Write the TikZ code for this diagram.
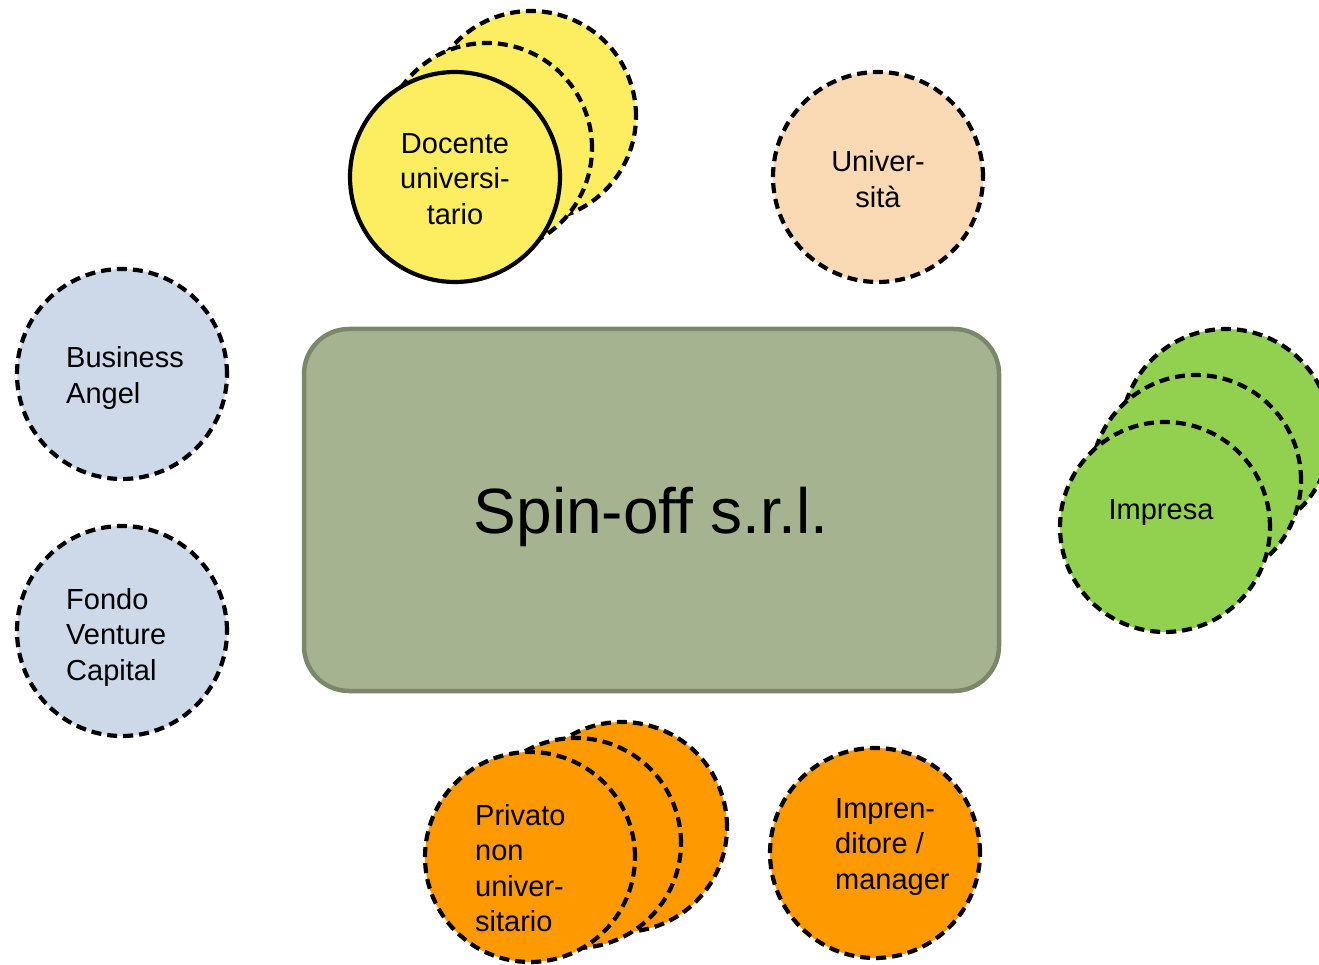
\documentclass[tikz,border=0pt]{standalone}
\usepackage{fontspec}
\setmainfont{Liberation Sans}
\definecolor{cyellow}{RGB}{252,238,96}
\definecolor{cpeach}{RGB}{250,217,181}
\definecolor{cblue}{RGB}{205,216,232}
\definecolor{cgreen}{RGB}{146,208,80}
\definecolor{corange}{RGB}{255,153,0}
\definecolor{crect}{RGB}{165,179,145}
\definecolor{crectb}{RGB}{122,135,107}
\begin{document}
\begin{tikzpicture}[x=1pt,y=-1pt,
  ent/.style={circle, minimum size=210pt, inner sep=0pt, line width=4.2pt, draw=black, dash pattern=on 10pt off 6pt},
  lbl/.style={inner sep=0pt, font=\fontsize{29}{35.5}\selectfont},
  lbll/.style={lbl, anchor=west, align=left}]
\useasboundingbox (0,0) rectangle (1319,965);
% main box
\node[draw=crectb, fill=crect, line width=4.5pt, rounded corners=45pt, minimum width=695pt, minimum height=362pt, inner sep=0pt] (spin) at (651.5,510) {};
\node[lbl, font=\fontsize{64}{72}\selectfont] (spint) at (651,517) {Spin-off s.r.l.};
% Docente stack
\node[ent, fill=cyellow] (d3) at (531,116) {};
\node[ent, fill=cyellow] (d2) at (487,148) {};
\node[ent, fill=cyellow, solid] (d1) at (455,177) {};
\node[lbl, align=center] (d1t) at (455,179) {Docente\\universi-\\tario};
% Universita
\node[ent, fill=cpeach] (u) at (878,177) {};
\node[lbl, align=center] (ut) at (878,179) {Univer-\\sità};
% Business angel
\node[ent, fill=cblue] (ba) at (122,374) {};
\node[lbll] (bat) at (66,378) {Business\\Angel};
% Fondo
\node[ent, fill=cblue] (fvc) at (122,631) {};
\node[lbll] (fvct) at (66,637) {Fondo\\Venture\\Capital};
% Impresa stack
\node[ent, fill=cgreen] (i3) at (1226,434) {};
\node[ent, fill=cgreen] (i2) at (1196,480) {};
\node[ent, fill=cgreen] (i1) at (1165,527) {};
\node[lbl] (i1t) at (1161,513) {Impresa};
% Privato stack
\node[ent, fill=corange] (p3) at (622,827) {};
\node[ent, fill=corange] (p2) at (576,843) {};
\node[ent, fill=corange] (p1) at (530,857) {};
\node[lbll] (p1t) at (475,868) {Privato\\non\\univer-\\sitario};
% Imprenditore
\node[ent, fill=corange] (im) at (875,853) {};
\node[lbll] (imt) at (835,847) {Impren-\\ditore /\\manager};
\end{tikzpicture}
\end{document}
